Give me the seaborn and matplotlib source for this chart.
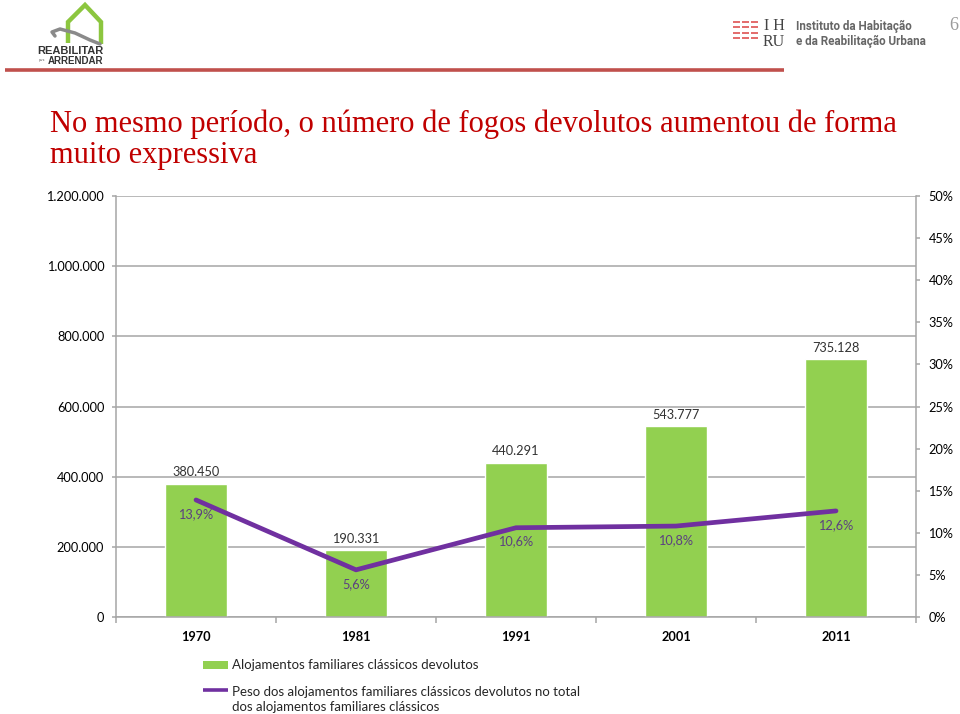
import matplotlib
matplotlib.use("Agg")
import matplotlib.pyplot as plt
from matplotlib.patches import Rectangle
from matplotlib.ticker import FixedLocator
import seaborn as sns
import numpy as np

# ---- data ----
years = ["1970", "1981", "1991", "2001", "2011"]
devolutos = [380450, 190331, 440291, 543777, 735128]
peso_pct = [13.9, 5.6, 10.6, 10.8, 12.6]
left_ticks = [0, 200000, 400000, 600000, 800000, 1000000, 1200000]
right_ticks = [0, 5, 10, 15, 20, 25, 30, 35, 40, 45, 50]

title = "No mesmo período, o número de fogos devolutos aumentou de forma\nmuito expressiva"
legend_bar = "Alojamentos familiares clássicos devolutos"
legend_line = "Peso dos alojamentos familiares clássicos devolutos no total\ndos alojamentos familiares clássicos"

GREEN = "#92D050"
PURPLE = "#7030A0"
GRID = "#A6A6A6"
W, H = 960, 714

sns.set_theme(style="white")
plt.rcParams["font.family"] = ["Lato", "DejaVu Sans"]

fig = plt.figure(figsize=(W / 100, H / 100), dpi=100)

# ---- background / header overlay in pixel coords ----
bg = fig.add_axes([0, 0, 1, 1])
bg.set_xlim(0, W)
bg.set_ylim(H, 0)
bg.axis("off")

# left logo (house)
bg.plot([68, 68, 85, 101, 101], [43, 22, 5, 22, 44], color="#8CC63F", lw=3.2,
        solid_joinstyle="miter", solid_capstyle="butt")
bg.plot([55, 52, 60, 75, 90, 100], [36, 32, 29, 33, 40, 44], color="#8A8A8A", lw=2.5)
bg.text(70.5, 51, "REABILITAR", ha="center", va="center", fontsize=8.0,
        fontweight="bold", color="#333333", family=["Liberation Sans"])
bg.text(75, 60.5, "ARRENDAR", ha="center", va="center", fontsize=7.0,
        fontweight="bold", color="#333333", family=["Liberation Sans"])
bg.text(42, 60, "para", ha="center", va="center", fontsize=2.3, color="#555555")

# red header line
bg.plot([5, 784], [70, 70], color="#C0504D", lw=2.6, solid_capstyle="butt")

# right logo (IHRU)
for yy in [22, 27, 33, 38]:
    for xx in [733, 742, 751]:
        bg.plot([xx, xx + 7], [yy, yy], color="#E06060", lw=1.3, solid_capstyle="butt")
bg.text(774, 26, "I H", ha="center", va="center", fontsize=11.5, color="#444444",
        family=["Liberation Serif"])
bg.text(774, 42, "RU", ha="center", va="center", fontsize=11.5, color="#444444",
        family=["Liberation Serif"])
bg.text(796, 26, "Instituto da Habitação", ha="left", va="center", fontsize=8.4,
        fontweight="bold", color="#666666", family=["Roboto"])
bg.text(796, 41, "e da Reabilitação Urbana", ha="left", va="center", fontsize=8.4,
        fontweight="bold", color="#666666", family=["Roboto"])
bg.text(954, 25, "6", ha="center", va="center", fontsize=13, color="#9A9A9A",
        family=["Liberation Serif"])

# title
bg.text(50, 163, title, ha="left", va="baseline", fontsize=22, color="#C00000",
        family=["Liberation Serif"], linespacing=1.08)

# legend (manual)
bg.add_patch(Rectangle((203, 661), 25, 8, color=GREEN, lw=0))
bg.text(232, 665, legend_bar, ha="left", va="center", fontsize=9.5, color="#262626")
bg.plot([203, 228], [690, 690], color=PURPLE, lw=2.6, solid_capstyle="butt")
bg.text(232, 699.5, legend_line, ha="left", va="center", fontsize=9.5, color="#262626",
        linespacing=1.3)

# ---- main chart ----
ax = fig.add_axes([116 / W, 1 - 617 / H, (916 - 116) / W, (617 - 196) / H])
sns.barplot(x=years, y=devolutos, ax=ax, color=GREEN, saturation=1, width=0.385,
            order=years)
ax.set_ylim(0, 1200000)
ax.set_xlim(-0.5, 4.5)
ax.yaxis.set_major_locator(FixedLocator(left_ticks))
ax.set_yticklabels([f"{v:,}".replace(",", ".") for v in left_ticks])
ax.yaxis.grid(True, color=GRID, lw=1.1)
ax.set_axisbelow(True)
ax.set_xlabel("")
ax.set_ylabel("")

for s in ["left", "bottom"]:
    ax.spines[s].set_color(GRID)
    ax.spines[s].set_linewidth(1.1)
ax.spines["top"].set_visible(False)
ax.spines["right"].set_visible(False)

ax.tick_params(axis="y", length=3, color=GRID, width=1.1, pad=5.5, labelsize=9.2,
               labelcolor="black", left=True)
ax.set_xticks(range(len(years)))
ax.set_xticklabels(years, fontweight="bold", fontsize=9.2, color="black")
ax.set_xticks(np.arange(-0.5, len(years), 1.0), minor=True)
ax.tick_params(axis="x", which="major", length=0, pad=10)
ax.tick_params(axis="x", which="minor", length=4, color=GRID, width=1.1, bottom=True)

for i, v in enumerate(devolutos):
    ax.annotate(f"{v:,}".replace(",", "."), xy=(i, v), xytext=(0, 4),
                textcoords="offset points", ha="center", va="bottom",
                fontsize=9.2, color="#333333")

ax2 = ax.twinx()
sns.pointplot(x=years, y=peso_pct, ax=ax2, color=PURPLE, markers="",
              errorbar=None, order=years, linewidth=3.4)
ax2.set_ylim(0, 50)
ax2.set_xlim(-0.5, 4.5)
ax2.yaxis.set_major_locator(FixedLocator(right_ticks))
ax2.set_yticklabels([f"{t}%" for t in right_ticks])
ax2.tick_params(axis="y", length=3, color=GRID, width=1.1, pad=6, labelsize=9.2,
                labelcolor="black", right=True)
ax2.set_ylabel("")
ax2.set_xlabel("")
ax2.grid(False)
ax2.spines["right"].set_color(GRID)
ax2.spines["right"].set_linewidth(1.1)
for s in ["top", "left", "bottom"]:
    ax2.spines[s].set_visible(False)

for i, p in enumerate(peso_pct):
    ax2.annotate(f"{p:.1f}%".replace(".", ","), xy=(i, p), xytext=(0, -10),
                 textcoords="offset points", ha="center", va="center",
                 fontsize=9.2, color="#5B4080")

fig.savefig("out.png", dpi=100)
